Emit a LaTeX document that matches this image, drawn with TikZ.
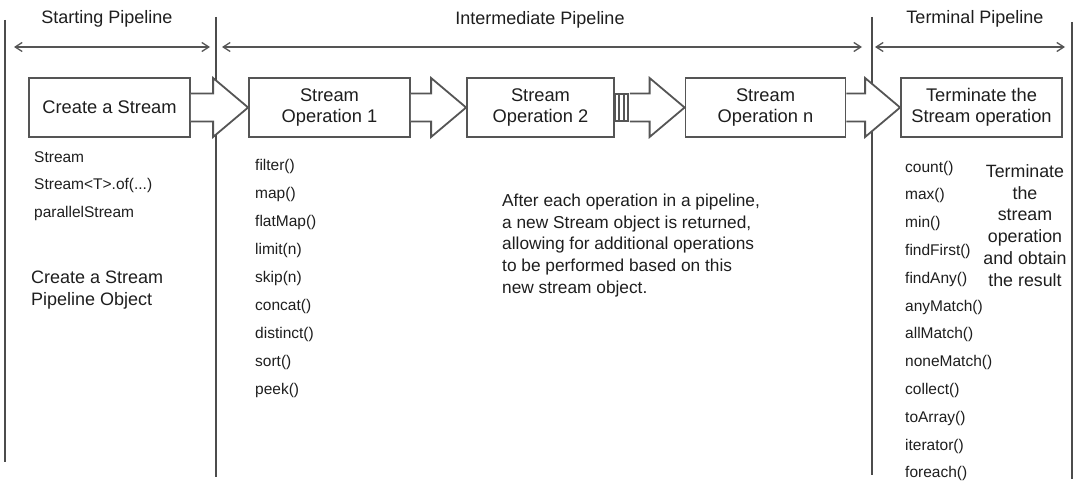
\documentclass[tikz,border=0pt]{standalone}
\usepackage{fontspec}
\setmainfont{Liberation Sans}
\usetikzlibrary{arrows.meta,calc}
\definecolor{ln}{HTML}{555555}
\definecolor{tx}{HTML}{1E1E1E}
\begin{document}
\begin{tikzpicture}[x=1pt,y=-1pt,
  box/.style={draw=ln, line width=1.8pt, fill=white, minimum height=59pt, align=center,
    font=\fontsize{18.3}{21}\selectfont, text=tx, inner sep=0pt},
  barrow/.style={draw=ln, line width=1.8pt, fill=white, line join=miter},
  bar/.style={draw=ln, line width=1.2pt, fill=white},
  vline/.style={draw=ln!90!black, line width=1.8pt},
  dim/.style={draw=ln, line width=1.3pt, {Straight Barb[length=7pt,width=9pt]}-{Straight Barb[length=7pt,width=9pt]}},
  head/.style={font=\fontsize{18}{20}\selectfont, text=tx, inner sep=0pt},
  item/.style={font=\fontsize{15.5}{17}\selectfont, text=tx, anchor=west, inner sep=0pt},
  para/.style={font=\fontsize{17.3}{21.8}\selectfont, text=tx, inner sep=0pt}
]
\useasboundingbox (0,0) rectangle (1080,495);

% vertical separators
\coordinate (v1t) at (5,20);    \coordinate (v1b) at (5,462);
\coordinate (v2t) at (216,17);  \coordinate (v2b) at (216,477);
\coordinate (v3t) at (872,17);  \coordinate (v3b) at (872,475);
\coordinate (v4t) at (1072,22); \coordinate (v4b) at (1072,479);
\foreach \v in {v1,v2,v3,v4} \draw[vline] (\v t) -- (\v b);

% dimension arrows
\coordinate (d1a) at (14,47);  \coordinate (d1b) at (210,47);
\coordinate (d2a) at (222,47); \coordinate (d2b) at (862,47);
\coordinate (d3a) at (875,47); \coordinate (d3b) at (1065,47);
\draw[dim] (d1a) -- (d1b);
\draw[dim] (d2a) -- (d2b);
\draw[dim] (d3a) -- (d3b);

% headers
\node[head] (h1) at (107,19) {Starting Pipeline};
\node[head] (h2) at (540,20) {Intermediate Pipeline};
\node[head] (h3) at (975,19) {Terminal Pipeline};

% boxes
\node[box, minimum width=161pt] (A) at (109.5,107.5) {Create a Stream};
\node[box, minimum width=161pt] (B) at (329.5,107.5) {Stream\\Operation 1};
\node[box, minimum width=147pt] (C) at (540.5,107.5) {Stream\\Operation 2};
\node[box, minimum width=160pt] (D) at (765.5,107.5) {Stream\\Operation n};
\node[box, minimum width=161pt] (E) at (981.5,107.5) {Terminate the\\Stream operation};

% gap bars after C
\coordinate (g) at ($(C.east)+(15,0)$);
\foreach \bx in {0,4.5,9}
  \draw[bar] ($(C.east)+(\bx,-13.5)$) rectangle ($(C.east)+(\bx+4,13.5)$);

% block arrows
\newcommand{\blockarr}[2]{%
  \draw[barrow] ($(#1)+(0,-14)$) -- ($(#2)+(-35,-14)$) -- ($(#2)+(-35,-29.5)$) -- (#2)
     -- ($(#2)+(-35,29.5)$) -- ($(#2)+(-35,14)$) -- ($(#1)+(0,14)$);}
\blockarr{A.east}{B.west}
\blockarr{B.east}{C.west}
\blockarr{g}{D.west}
\blockarr{D.east}{E.west}

% starting list
\node[item] (s1) at (34,157) {Stream};
\node[item] (s2) at (34,185) {Stream<T>.of(...)};
\node[item] (s3) at (34,213) {parallelStream};
\node[para, align=left, anchor=west, font=\fontsize{18}{22}\selectfont] (sp) at (31,290) {Create a Stream\\Pipeline Object};

% intermediate list
\foreach \t [count=\i] in {filter(),map(),flatMap(),limit(n),skip(n),concat(),distinct(),sort(),peek()}
  \node[item] (m\i) at (255,{166+28.1*(\i-1)}) {\t};

\node[para, align=left, anchor=west] (mp) at (502,245.5) {After each operation in a pipeline,\\a new Stream object is returned,\\allowing for additional operations\\to be performed based on this\\new stream object.};

% terminal list
\foreach \t [count=\i] in {count(),max(),min(),findFirst(),findAny(),anyMatch(),allMatch(),noneMatch(),collect(),toArray(),iterator(),foreach()}
  \node[item] (t\i) at (905,{168+27.8*(\i-1)}) {\t};

\node[para, align=center, font=\fontsize{17.8}{21.8}\selectfont] (tp) at (1025,225.5) {Terminate\\the\\stream\\operation\\and obtain\\the result};
\end{tikzpicture}
\end{document}
